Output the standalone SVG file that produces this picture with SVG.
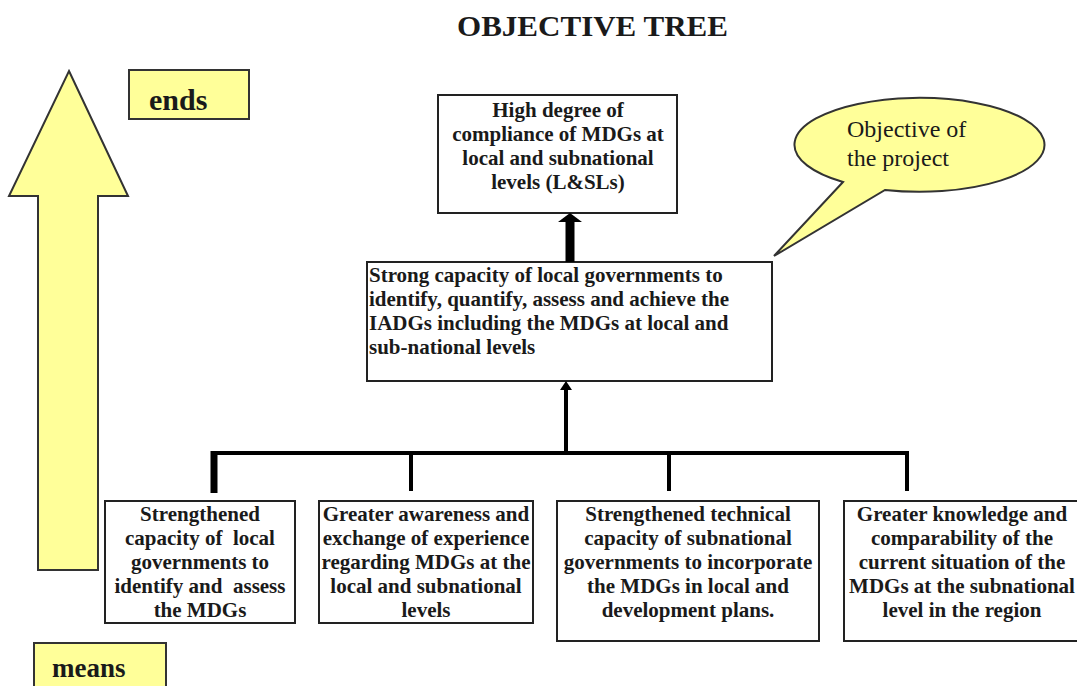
<svg xmlns="http://www.w3.org/2000/svg" width="1077" height="686" viewBox="0 0 1077 686">
<style>
.box{fill:#fff;stroke:#222;stroke-width:2}
.yel{fill:#ffff99;stroke:#333;stroke-width:2}
.t{font-family:"Liberation Serif","Times New Roman",serif;font-weight:bold;font-size:21px;fill:#1a1a1a}
.c{text-anchor:middle}
.pre{white-space:pre}
.ln{stroke:#000;fill:none;stroke-width:4}
</style>
<rect width="1077" height="686" fill="#fff"/>
<text x="457" y="36" class="t" style="font-size:29px" textLength="271" lengthAdjust="spacingAndGlyphs">OBJECTIVE TREE</text>

<g id="bigarrow"><polygon class="yel" points="69,71 128,196 98,196 98,570 38,570 38,196 9,196"/></g>
<g id="ends"><rect class="yel" x="129" y="70" width="120" height="49"/><text class="t" x="149" y="110" style="font-size:30px">ends</text></g>
<g id="means"><rect class="yel" x="34" y="643" width="132" height="50"/><text class="t" x="52" y="677" style="font-size:27px">means</text></g>

<g id="callout">
<path class="yel" d="M843,182 L774,256 L885,190 A125,47 0 1 0 843,182 Z"/>
<text x="847" y="137" font-family="Liberation Serif,serif" font-size="24" fill="#1a1a1a">Objective of</text>
<text x="847" y="166" font-family="Liberation Serif,serif" font-size="24" fill="#1a1a1a">the project</text>
</g>

<g id="goal"><rect class="box" x="438" y="95" width="239" height="118"/>
<text class="t c" x="558" y="117">High degree of</text>
<text class="t c" x="558" y="141">compliance of MDGs at</text>
<text class="t c" x="558" y="165">local and subnational</text>
<text class="t c" x="558" y="189">levels (L&amp;SLs)</text></g>

<g id="purpose"><rect class="box" x="367" y="262" width="405" height="119"/>
<text class="t" x="369" y="282">Strong capacity of local governments to</text>
<text class="t" x="369" y="306">identify, quantify, assess and achieve the</text>
<text class="t" x="369" y="330">IADGs including the MDGs at local and</text>
<text class="t" x="369" y="354">sub-national levels</text></g>

<g id="r1"><rect class="box" x="105" y="501" width="190" height="122"/>
<text class="t c" x="200" y="521">Strengthened</text>
<text class="t c pre" x="200" y="545">capacity of  local</text>
<text class="t c" x="200" y="569">governments to</text>
<text class="t c pre" x="200" y="593">identify and  assess</text>
<text class="t c" x="200" y="617">the MDGs</text></g>

<g id="r2"><rect class="box" x="319" y="501" width="214" height="122"/>
<text class="t c" x="426" y="521">Greater awareness and</text>
<text class="t c" x="426" y="545">exchange of experience</text>
<text class="t c" x="426" y="569">regarding MDGs at the</text>
<text class="t c" x="426" y="593">local and subnational</text>
<text class="t c" x="426" y="617">levels</text></g>

<g id="r3"><rect class="box" x="557" y="501" width="262" height="140"/>
<text class="t c" x="688" y="521">Strengthened technical</text>
<text class="t c" x="688" y="545">capacity of subnational</text>
<text class="t c" x="688" y="569">governments to incorporate</text>
<text class="t c" x="688" y="593">the MDGs in local and</text>
<text class="t c" x="688" y="617">development plans.</text></g>

<g id="r4"><rect class="box" x="844" y="501" width="240" height="140"/>
<text class="t c" x="962" y="521">Greater knowledge and</text>
<text class="t c" x="962" y="545">comparability of the</text>
<text class="t c" x="962" y="569">current situation of the</text>
<text class="t c" x="962" y="593">MDGs at the subnational</text>
<text class="t c" x="962" y="617">level in the region</text></g>

<g id="connectors">
<line class="ln" x1="570" y1="262" x2="570" y2="220" style="stroke-width:9"/>
<polygon points="570,213 582,222 558,222" fill="#000"/>
<line class="ln" x1="566" y1="453" x2="566" y2="389"/>
<polygon points="566,381 572,390 560,390" fill="#000"/>
<line class="ln" x1="212" y1="453" x2="909" y2="453"/>
<line class="ln" x1="214" y1="451" x2="214" y2="493" style="stroke-width:7"/>
<line class="ln" x1="411" y1="453" x2="411" y2="491"/>
<line class="ln" x1="669" y1="453" x2="669" y2="491"/>
<line class="ln" x1="907" y1="451" x2="907" y2="491"/>
</g>
</svg>
